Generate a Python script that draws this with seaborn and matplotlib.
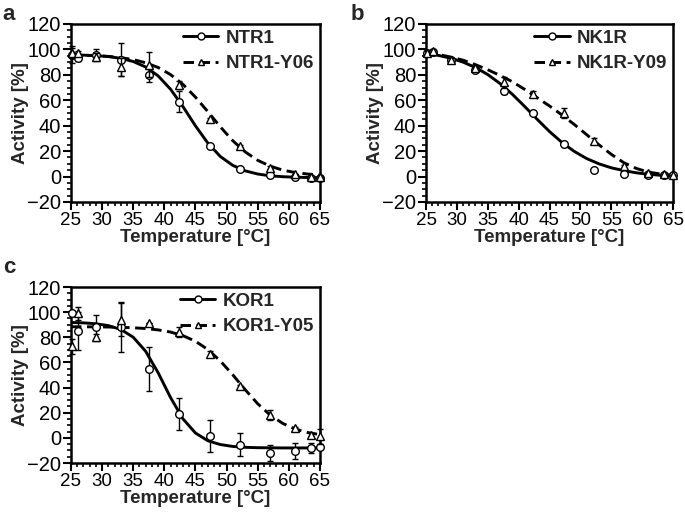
import matplotlib
matplotlib.use("Agg")
import matplotlib.pyplot as plt
from matplotlib.lines import Line2D
from matplotlib.ticker import MultipleLocator
import seaborn as sns
import pandas as pd

# measured temperatures (same for every panel)
temps = [25.2, 26.2, 29, 33.0, 37.6, 42.4, 47.4, 52.2, 57.0, 61.0, 63.6, 65.0]
# temperatures at which the fitted curves were read
curve_temp = [25, 27, 29, 31, 33, 35, 37, 39, 41, 43, 45, 47, 49, 51, 53, 55, 57, 59, 61, 63, 65]

# panel a
ntr1 = [96, 93, 96, 92, 80, 59, 24, 6, 1, 0, -1, -1]
ntr1_err = [7, 2, 4, 13, 6, 8, 1, 1, 0, 0, 0, 0]
ntr1_y06 = [97, 97, 94, 86, 88, 72, 45, 24, 7, 2, 0, 0]
ntr1_y06_err = [4, 2, 3, 7, 10, 3, 1, 1, 1, 0, 0, 0]
ntr1_fit = [95.7, 95.5, 95.1, 94.4, 93.0, 90.5, 86.2, 79.2, 68.7, 55.0, 39.9,
            26.3, 15.8, 8.8, 4.5, 2.0, 0.6, -0.1, -0.5, -0.75, -0.9]
ntr1_y06_fit = [95.7, 95.4, 95.1, 94.5, 93.5, 92.0, 89.5, 85.8, 80.2, 72.5, 62.5,
                51.0, 39.1, 28.2, 19.4, 12.8, 8.2, 5.1, 3.2, 2.0, 1.2]

# panel b
nk1r = [97, 98, 92, 84, 67, 50, 26, 5, 2, 1, 1, 1]
nk1r_err = [2, 1, 1, 2, 2, 1, 1, 1, 1, 0, 0, 0]
nk1r_y09 = [97, 99, 92, 85, 74, 65, 50, 28, 8, 3, 2, 1]
nk1r_y09_err = [2, 1, 1, 1, 4, 2, 4, 2, 1, 1, 0, 0]
nk1r_fit = [96.8, 95.3, 93.1, 90.0, 85.8, 80.2, 73.1, 64.6, 55.0, 45.0, 35.4,
            26.9, 19.8, 14.2, 10.0, 6.9, 4.7, 3.0, 1.8, 1.0, 0.5]
nk1r_y09_fit = [97.5, 96, 94, 91.5, 88, 84, 79.5, 74.5, 68.5, 62, 55.5,
                48.5, 41, 33, 25, 17.5, 11, 6.5, 3.5, 2, 1]

# panel c
kor1 = [99, 85, 88, 88, 54.5, 19, 1.7, -5.5, -12, -10.5, -8, -7]
kor1_err = [0, 15, 10, 20, 17.5, 12.5, 12.7, 9, 6, 6.5, 4, 1]
kor1_y05 = [73, 99, 80, 94, 91.5, 84, 67, 41, 18, 7.5, 2.5, 1.2]
kor1_y05_err = [6, 5, 3, 13, 0, 4, 2, 1, 4, 1, 1, 6]
kor1_fit = [91.8, 91.5, 90.8, 89.3, 86.3, 80.1, 68.9, 51.9, 32.1, 15.1, 3.9,
            -2.3, -5.3, -6.8, -7.5, -7.8, -7.9, -8.0, -8.0, -8.0, -8.0]
kor1_y05_fit = [88.4, 88.4, 88.3, 88.2, 88.0, 87.6, 87.0, 85.9, 84.2, 81.3, 76.9,
                70.3, 61.2, 50.2, 38.3, 27.2, 18.2, 11.6, 7.1, 4.3, 2.6]

panels = [
    ("a", "NTR1", ntr1, ntr1_err, ntr1_fit, "NTR1-Y06", ntr1_y06, ntr1_y06_err, ntr1_y06_fit),
    ("b", "NK1R", nk1r, nk1r_err, nk1r_fit, "NK1R-Y09", nk1r_y09, nk1r_y09_err, nk1r_y09_fit),
    ("c", "KOR1", kor1, kor1_err, kor1_fit, "KOR1-Y05", kor1_y05, kor1_y05_err, kor1_y05_fit),
]

sns.set_theme(style="ticks")
plt.rcParams["font.family"] = ["Liberation Sans", "DejaVu Sans"]

fig = plt.figure(figsize=(6.85, 5.17), dpi=100)
boxes = [[0.1036, 0.6093, 0.3634, 0.3443],
         [0.622, 0.6093, 0.3605, 0.3443],
         [0.1036, 0.1044, 0.3634, 0.3404]]
letter_pos = [(0.004, 0.992), (0.512, 0.992), (0.004, 0.503)]
DASH = (0, (3.6, 1.9))

for (letter, n1, y1, e1, f1, n2, y2, e2, f2), box, lp in zip(panels, boxes, letter_pos):
    ax = fig.add_axes(box)
    fits = pd.DataFrame({"T": curve_temp * 2, "A": f1 + f2,
                         "s": [n1] * len(curve_temp) + [n2] * len(curve_temp)})
    sns.lineplot(data=fits[fits.s == n1], x="T", y="A", color="black", lw=2.1,
                 ax=ax, legend=False)
    sns.lineplot(data=fits[fits.s == n2], x="T", y="A", color="black", lw=2.1,
                 ax=ax, legend=False)
    ax.lines[-1].set_linestyle(DASH)

    for yy, ee, mk, z in [(y1, e1, "o", 3), (y2, e2, "^", 4)]:
        cont = ax.errorbar(temps, yy, yerr=ee, fmt=mk, ms=5.5, mfc="white", mec="black",
                           mew=1, ecolor="black", elinewidth=1, capsize=2.5,
                           capthick=1, zorder=z)
        for art in cont.get_children():
            art.set_clip_on(False)

    ax.set_xlim(25, 65)
    ax.set_ylim(-20, 120)
    ax.xaxis.set_major_locator(MultipleLocator(5))
    ax.xaxis.set_minor_locator(MultipleLocator(1))
    ax.yaxis.set_major_locator(MultipleLocator(20))
    ax.yaxis.set_minor_locator(MultipleLocator(5))
    ax.tick_params(which="major", direction="out", length=5.5, width=1.5,
                   pad=1.5, color="black", labelcolor="black")
    ax.tick_params(axis="x", labelsize=13.5)
    ax.tick_params(axis="y", labelsize=14.5)
    ax.tick_params(which="minor", direction="out", length=3, width=1.2, color="black")
    ax.tick_params(top=False, right=False, which="both")
    for sp in ax.spines.values():
        sp.set_linewidth(1.8)
        sp.set_color("black")
        sp.set_visible(True)
    ax.set_yticklabels([str(int(v)).replace("-", "\u2212") for v in ax.get_yticks()])
    ax.set_xlabel("Temperature [°C]", fontsize=13.5, fontweight="bold", labelpad=0)
    ax.set_ylabel("Activity [%]", fontsize=13.5, fontweight="bold", labelpad=-1)

    handles = [
        Line2D([], [], color="black", lw=2.1, marker="o", ms=5, mfc="white", mec="black"),
        Line2D([], [], color="black", lw=2.1, ls=DASH, marker="^", ms=4.5,
               mfc="white", mec="black"),
    ]
    ax.legend(handles, [n1, n2], loc="upper right", frameon=False,
              prop={"weight": "bold", "size": 13.5}, handlelength=1.9,
              handletextpad=0.4, labelspacing=0.45, borderpad=0.2,
              borderaxespad=0.1)

    fig.text(lp[0], lp[1], letter, fontsize=16, fontweight="bold", va="top", ha="left")

fig.savefig("out.png", dpi=100)
